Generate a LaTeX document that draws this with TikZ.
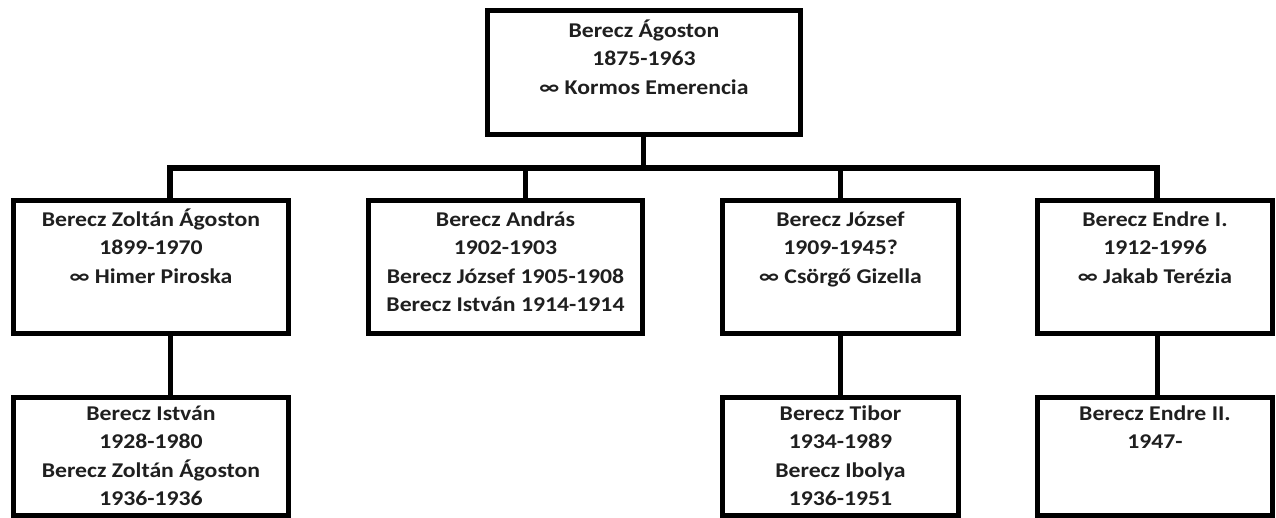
\documentclass[tikz,border=0pt]{standalone}
\usepackage{fontspec}
\setmainfont{Carlito}[FakeStretch=1.13]
\begin{document}
\begin{tikzpicture}[x=1pt,y=-1pt,
  box/.style={draw=black, line width=5pt, inner sep=0pt, outer sep=0pt, fill=white},
  txt/.style={anchor=north, align=center, inner sep=0pt, font=\bfseries\fontsize{21}{28.5}\selectfont, text=black!88},
  link/.style={draw=black, line width=5pt}]
\useasboundingbox (0,0) rectangle (1276,518);
% boxes
\node[box, minimum width=313pt, minimum height=124pt] (top) at (644,72.5) {};
\node[box, minimum width=275pt, minimum height=133pt] (r2a) at (151,267) {};
\node[box, minimum width=274pt, minimum height=133pt] (r2b) at (505.5,267) {};
\node[box, minimum width=236pt, minimum height=133pt] (r2c) at (840.5,267) {};
\node[box, minimum width=235pt, minimum height=133pt] (r2d) at (1155,267) {};
\node[box, minimum width=275pt, minimum height=118pt] (r3a) at (151,456.5) {};
\node[box, minimum width=236pt, minimum height=118pt] (r3c) at (840.5,456.5) {};
\node[box, minimum width=235pt, minimum height=118pt] (r3d) at (1155,456.5) {};
% junctions on the bar
\coordinate (jt) at (643,168);
\coordinate (j1) at (170,168);
\coordinate (j2) at (525,168);
\coordinate (j3) at (840,168);
\coordinate (j4) at (1157,168);
% connectors
\draw[link] (top.south -| jt) -- (jt);
\draw[link, line width=6pt] (j1 |- r2a.north) -- (j1) -- (j4) -- (j4 |- r2d.north);
\draw[link] (j2) -- (j2 |- r2b.north);
\draw[link] (j3) -- (j3 |- r2c.north);
\draw[link] (r2a.south -| j1) -- (r3a.north -| j1);
\draw[link] (r2c.south -| j3) -- (r3c.north -| j3);
\draw[link] (r2d.south -| j4) -- (r3d.north -| j4);
% texts
\node[txt] (ttop) at (644,18) {\rule{0pt}{19pt}Berecz Ágoston\\1875-1963\\∞ Kormos Emerencia};
\node[txt] (t2a) at (151,207) {\rule{0pt}{19pt}Berecz Zoltán Ágoston\\1899-1970\\∞ Himer Piroska};
\node[txt] (t2b) at (505.5,207) {\rule{0pt}{19pt}Berecz András\\1902-1903\\Berecz József 1905-1908\\Berecz István 1914-1914};
\node[txt] (t2c) at (840.5,207) {\rule{0pt}{19pt}Berecz József\\1909-1945?\\∞ Csörgő Gizella};
\node[txt] (t2d) at (1155,207) {\rule{0pt}{19pt}Berecz Endre I.\\1912-1996\\∞ Jakab Terézia};
\node[txt] (t3a) at (151,401) {\rule{0pt}{19pt}Berecz István\\1928-1980\\Berecz Zoltán Ágoston\\1936-1936};
\node[txt] (t3c) at (840.5,401) {\rule{0pt}{19pt}Berecz Tibor\\1934-1989\\Berecz Ibolya\\1936-1951};
\node[txt] (t3d) at (1155,401) {\rule{0pt}{19pt}Berecz Endre II.\\1947-};
\end{tikzpicture}
\end{document}
